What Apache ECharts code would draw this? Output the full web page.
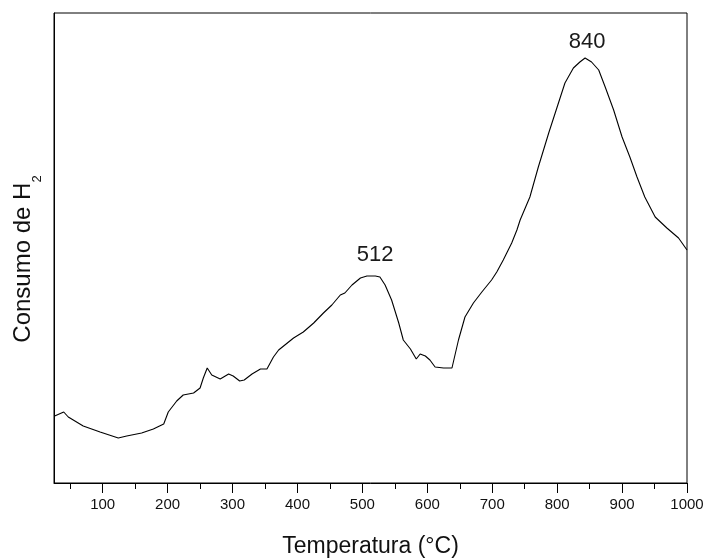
<!DOCTYPE html>
<html>
<head>
    <meta charset="utf-8">
    <title>TPR</title>
    <script src="https://cdn.jsdelivr.net/npm/echarts@6/dist/echarts.min.js"></script>
    <style>
        html, body { margin: 0; padding: 0; background: #fff; }
    </style>
</head>
<body>
<div id="main" style="width: 706px;height:558px;"></div>
<script>
    // temperatura (°C) y consumo de H2 (u.a.)
    var temps = [26, 40, 47, 70, 96, 124, 137, 160, 178, 194, 201, 214, 224, 240, 250, 255, 261, 268, 281, 294,
        301, 311, 318, 330, 343, 353, 363, 371, 394, 409, 425, 440, 453, 466, 473, 484, 497, 507, 512, 520,
        527, 535, 545, 556, 563, 574, 583, 589, 597, 604, 612, 625, 638, 648, 658, 671, 684, 699, 707, 717,
        730, 738, 743, 758, 771, 787, 800, 812, 825, 835, 843, 853, 864, 874, 887, 900, 912, 923, 935, 951,
        969, 987, 1000];
    var h2 = [67, 71, 66, 57, 51, 45, 47, 50, 54, 59, 71, 82, 88, 90, 95, 105, 115, 108, 104, 109,
        107, 102, 103, 109, 114, 114, 126, 133, 145, 151, 160, 170, 178, 188, 190, 198, 205, 207, 207, 207,
        206, 198, 183, 160, 143, 134, 124, 129, 127, 123, 116, 115, 115, 143, 166, 180, 191, 203, 211, 223,
        240, 253, 263, 286, 316, 350, 376, 400, 415, 421, 425, 421, 413, 396, 373, 346, 326, 306, 286, 266,
        255, 245, 233];
    var majorTicks = [100, 200, 300, 400, 500, 600, 700, 800, 900, 1000];
    var minorTicks = [50, 150, 250, 350, 450, 550, 650, 750, 850, 950];
    var peakTemps = [512, 840];
    var peakHeights = [207, 425];

    var chart = echarts.init(document.getElementById('main'));

    var points = [];
    for (var i = 0; i < temps.length; i++) {
        points.push([temps[i], h2[i]]);
    }

    var peakOffsets = [[5, -21], [4, -16]];
    var marks = [];
    for (var j = 0; j < peakTemps.length; j++) {
        marks.push({
            coord: [peakTemps[j], peakHeights[j]],
            value: peakTemps[j],
            label: { offset: peakOffsets[j] }
        });
    }

    var option = {
        animation: false,
        grid: {
            left: 54, right: 19, top: 13, bottom: 75,
            outerBoundsMode: 'none',
            containLabel: false,
            show: true, borderColor: '#000', borderWidth: 1, backgroundColor: 'transparent'
        },
        xAxis: [{
            type: 'value',
            min: 25, max: 1000,
            name: 'Temperatura (°C)',
            nameLocation: 'middle',
            nameGap: 52,
            nameTextStyle: { fontFamily: 'Liberation Sans', fontSize: 23, color: '#111' },
            axisLine: { lineStyle: { color: '#000', width: 1 } },
            axisTick: { customValues: majorTicks, length: 10, lineStyle: { color: '#000' } },
            axisLabel: {
                customValues: majorTicks, margin: 14,
                formatter: function (v) { return String(v); },
                fontFamily: 'Liberation Sans', fontSize: 15, color: '#111'
            },
            splitLine: { show: false }
        }, {
            type: 'value',
            min: 25, max: 1000,
            position: 'bottom',
            axisLine: { show: false },
            axisTick: { customValues: minorTicks, length: 6, lineStyle: { color: '#000' } },
            axisLabel: { show: false },
            splitLine: { show: false }
        }],
        yAxis: {
            type: 'value',
            min: 0, max: 470,
            name: '{a|Consumo de H}{s|2}',
            nameLocation: 'middle',
            nameGap: 10,
            nameTextStyle: {
                color: '#111',
                padding: [0, 22, 0, 0],
                rich: {
                    a: { fontFamily: 'Liberation Sans', fontSize: 24, color: '#111', lineHeight: 26, verticalAlign: 'top' },
                    s: { fontFamily: 'Liberation Sans', fontSize: 13, color: '#111', lineHeight: 33, verticalAlign: 'bottom' }
                }
            },
            axisLine: { show: true, lineStyle: { color: '#000' } },
            axisTick: { show: false },
            axisLabel: { show: false },
            splitLine: { show: false }
        },
        series: [{
            type: 'line',
            data: points,
            showSymbol: false,
            clip: true,
            lineStyle: { color: '#000', width: 1.1 },
            markPoint: {
                symbol: 'circle',
                symbolSize: 0,
                label: {
                    show: true,
                    position: 'inside',
                    formatter: '{c}',
                    fontFamily: 'Liberation Sans',
                    fontSize: 22,
                    color: '#1a1a1a'
                },
                data: marks
            }
        }]
    };

    chart.setOption(option);
</script>
</body>
</html>
